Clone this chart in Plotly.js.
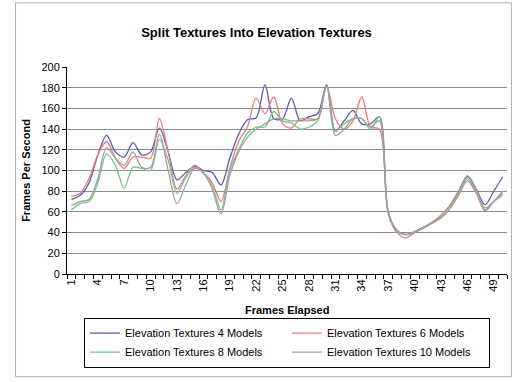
<!DOCTYPE html>
<html>
<head>
<meta charset="utf-8">
<script src="https://cdn.plot.ly/plotly-3.0.1.min.js"></script>
<style>html,body{margin:0;padding:0;background:#fff;}#chart{width:513px;height:382px;}</style>
</head>
<body>
<div id="chart"></div>
<script>
var frames = [1,2,3,4,5,6,7,8,9,10,11,12,13,14,15,16,17,18,19,20,21,22,23,24,25,26,27,28,29,30,31,32,33,34,35,36,37,38,39,40,41,42,43,44,45,46,47,48,49,50];
var tickFrames = [1,4,7,10,13,16,19,22,25,28,31,34,37,40,43,46,49];
var tickLabels = ["1","4","7","10","13","16","19","22","25","28","31","34","37","40","43","46","49"];
var seriesNames = ["Elevation Textures 4 Models","Elevation Textures 6 Models","Elevation Textures 8 Models","Elevation Textures 10 Models"];
var models4 = [72,76,88,115,134,118,113,127,115,118,141,118,91,98,104,100,98,86,112,135,149,151,183,150,150,170,148,152,155,183,138,148,158,145,145,152,60,42,38,41,45,50,56,66,80,94,82,67,80,94];
var models6 = [75,78,92,115,128,112,102,113,113,112,150,118,82,95,105,98,88,70,102,128,142,170,155,171,145,141,150,150,150,182,150,140,148,171,142,140,58,40,35,40,44,49,54,63,76,90,78,61,70,80];
var models8 = [62,68,70,88,116,105,83,103,102,100,130,110,78,93,103,97,85,62,100,120,136,142,142,157,148,146,140,142,148,182,138,145,150,150,140,152,60,42,38,40,45,50,56,65,78,92,80,64,70,76];
var models10 = [66,70,72,92,122,112,105,118,103,103,135,100,68,86,102,98,82,58,95,118,132,140,145,150,150,148,148,148,150,182,134,140,150,150,142,148,60,42,38,41,45,50,57,66,80,95,82,62,70,78];
var yTicks = [0,20,40,60,80,100,120,140,160,180,200];

var colors = ["#5a5ab4","#f07878","#70c88c","#a0a0a0"];
var allSeries = [models4, models6, models8, models10];
var traces = allSeries.map(function(s,i){
  return {x: frames, y: s, type:'scatter', mode:'lines', name: seriesNames[i],
    line:{color: colors[i], width:1.3, shape:'spline', smoothing:0.9}};
});

var layout = {
  width:513, height:382,
  margin:{l:67, r:6, t:67, b:108},
  paper_bgcolor:'#fff', plot_bgcolor:'#fff',
  font:{family:'"Liberation Sans", Arial, sans-serif', color:'#000', size:11},
  title:{text:'<b>Split Textures Into Elevation Textures</b>', font:{size:13}, x:0.5, xanchor:'center', y:0.915, yanchor:'middle'},
  showlegend:true,
  legend:{orientation:'h', x:0.5, xanchor:'center', y:-0.211, yanchor:'top',
    bordercolor:'#000', borderwidth:1, entrywidth:157, entrywidthmode:'pixels',
    itemwidth:30, font:{size:11}, traceorder:'normal'},
  xaxis:{range:[0.5,50.5], tickvals:tickFrames, ticktext:tickLabels, tickangle:-90,
    ticks:'', showgrid:false, showline:true, linecolor:'#000', linewidth:1,
    zeroline:false, tickfont:{size:11},
    minor:{tick0:0.5, dtick:1, ticks:'outside', ticklen:4, tickcolor:'#000', showgrid:false}},
  yaxis:{range:[0,200], tickvals:yTicks, ticks:'outside', ticklen:4, tickcolor:'#000',
    showgrid:true, gridcolor:'#8c8c8c', gridwidth:1, showline:true, linecolor:'#000', linewidth:1,
    zeroline:false, tickfont:{size:11},
    title:{text:'<b>Frames Per Second</b>', font:{size:11}, standoff:8}},
  annotations:[{text:'<b>Frames Elapsed</b>', xref:'paper', yref:'paper', x:0.5, y:-0.172,
    xanchor:'center', yanchor:'middle', showarrow:false, font:{size:11}}],
  shapes:[{type:'rect', xref:'paper', yref:'paper', x0:-0.117, x1:1.01, y0:-0.496, y1:1.31,
    line:{color:'#b0b0b0', width:1}, fillcolor:'rgba(0,0,0,0)', layer:'below'}]
};
Plotly.newPlot('chart', traces, layout, {staticPlot:true, displayModeBar:false});
</script>
</body>
</html>
